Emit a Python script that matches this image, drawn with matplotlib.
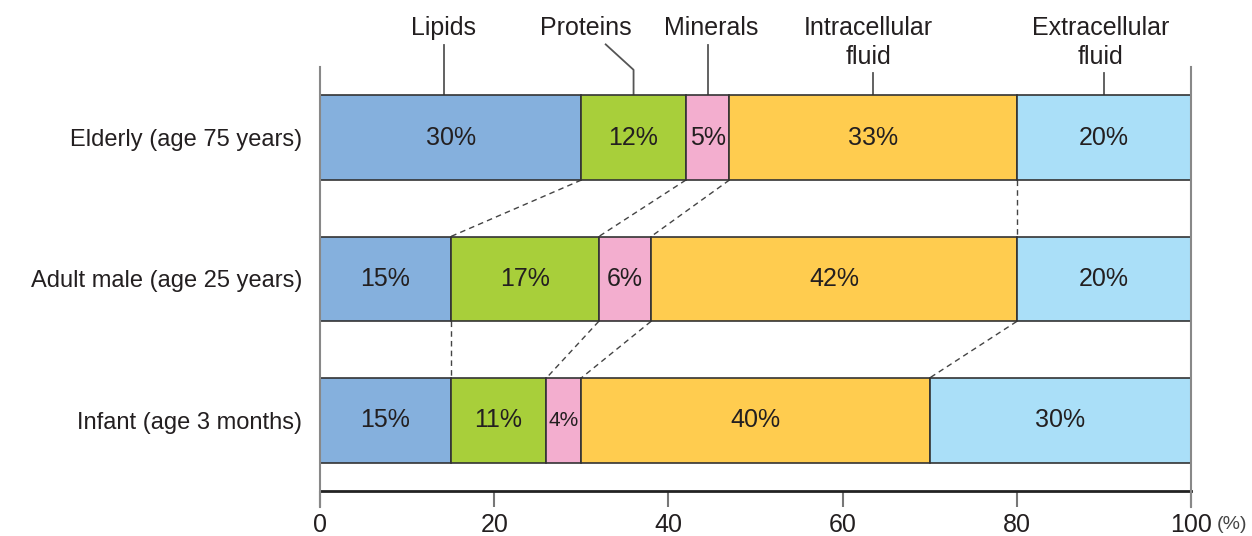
import matplotlib.pyplot as plt
import matplotlib.transforms as mtransforms

plt.rcParams['font.family'] = ['Liberation Sans', 'DejaVu Sans']

# data
groups = ['Elderly (age 75 years)', 'Adult male (age 25 years)', 'Infant (age 3 months)']
components = ['Lipids', 'Proteins', 'Minerals', 'Intracellular\nfluid', 'Extracellular\nfluid']
lipids = [30, 15, 15]
proteins = [12, 17, 11]
minerals = [5, 6, 4]
intracellular = [33, 42, 40]
extracellular = [20, 20, 30]
colors = ['#85B0DD', '#A8CF3A', '#F3AECF', '#FFCC4F', '#AADFF8']

series = [lipids, proteins, minerals, intracellular, extracellular]
txt = '#231F20'

fig = plt.figure(figsize=(12.52, 5.36), dpi=100)
ax = fig.add_axes([320 / 1252, 45 / 536, 871 / 1252, 424 / 536])

ypos = [2, 1, 0]
bh = 0.6
lefts_all = []
for gi in range(len(groups)):
    left = 0
    lefts = [0]
    for si, s in enumerate(series):
        v = s[gi]
        ax.barh(ypos[gi], v, left=left, height=bh, color=colors[si],
                edgecolor='#333333', linewidth=1.2, zorder=2)
        fs = 18 if v >= 5 else 15
        ax.text(left + v / 2, ypos[gi], f'{v}%', ha='center', va='center',
                fontsize=fs, color=txt, zorder=3)
        left += v
        lefts.append(left)
    lefts_all.append(lefts)

# dashed connectors between consecutive bars (boundaries 1..4)
for gi in range(len(groups) - 1):
    top = lefts_all[gi]
    bot = lefts_all[gi + 1]
    for k in range(1, 5):
        ax.plot([top[k], bot[k]], [ypos[gi] - bh / 2, ypos[gi + 1] + bh / 2],
                ls=(0, (4, 3)), color='#444444', lw=1, zorder=1)

# top labels with leader lines, anchored on elderly segment centres
el = lefts_all[0]
mids = [(el[k] + el[k + 1]) / 2 for k in range(5)]
mids[0] = 14.2
label_dx = [0, -5.5, 0.4, -0.5, -0.4]
ytop = 2 + bh / 2
for k, name in enumerate(components):
    x = mids[k]
    two = '\n' in name
    if k == 1:
        ax.plot([x - 3.2, x, x], [2.66, 2.48, ytop], color='#555555', lw=1.3,
                clip_on=False, zorder=1)
    elif two:
        ax.plot([x, x], [2.46, ytop], color='#555555', lw=1.3, clip_on=False, zorder=1)
    else:
        ax.plot([x, x], [2.655, ytop], color='#555555', lw=1.3, clip_on=False, zorder=1)
    ty = 2.673 if two else 2.776
    ax.text(x + label_dx[k], ty, name, ha='center', va='center', fontsize=18,
            color=txt, linespacing=1.3)

ax.set_xlim(0, 100)
ax.set_ylim(-0.5, 2.5)
ax.set_yticks(ypos)
ax.set_yticklabels(groups, fontsize=17, color=txt)
ax.tick_params(axis='y', length=0, pad=13)
ax.set_xticks([0, 20, 40, 60, 80, 100])
ax.set_xticklabels(['0', '20', '40', '60', '80', '100'], fontsize=18, color=txt)
ax.tick_params(axis='x', length=11.5, width=1.5, color='#777777', pad=4)

for sp in ['top', 'right', 'left']:
    ax.spines[sp].set_visible(False)
ax.spines['bottom'].set_linewidth(2)
ax.spines['bottom'].set_color('#222222')

trans = mtransforms.blended_transform_factory(ax.transData, ax.transAxes)
for xv in [0, 100]:
    ax.plot([xv, xv], [-0.038, 1.0], transform=trans, color='#888888', lw=1.5,
            clip_on=False, zorder=4)

ax.text(102.9, -0.08, '(%)', transform=trans, ha='left', va='center',
        fontsize=14, color='#444444')

fig.savefig('out.png', dpi=100)
